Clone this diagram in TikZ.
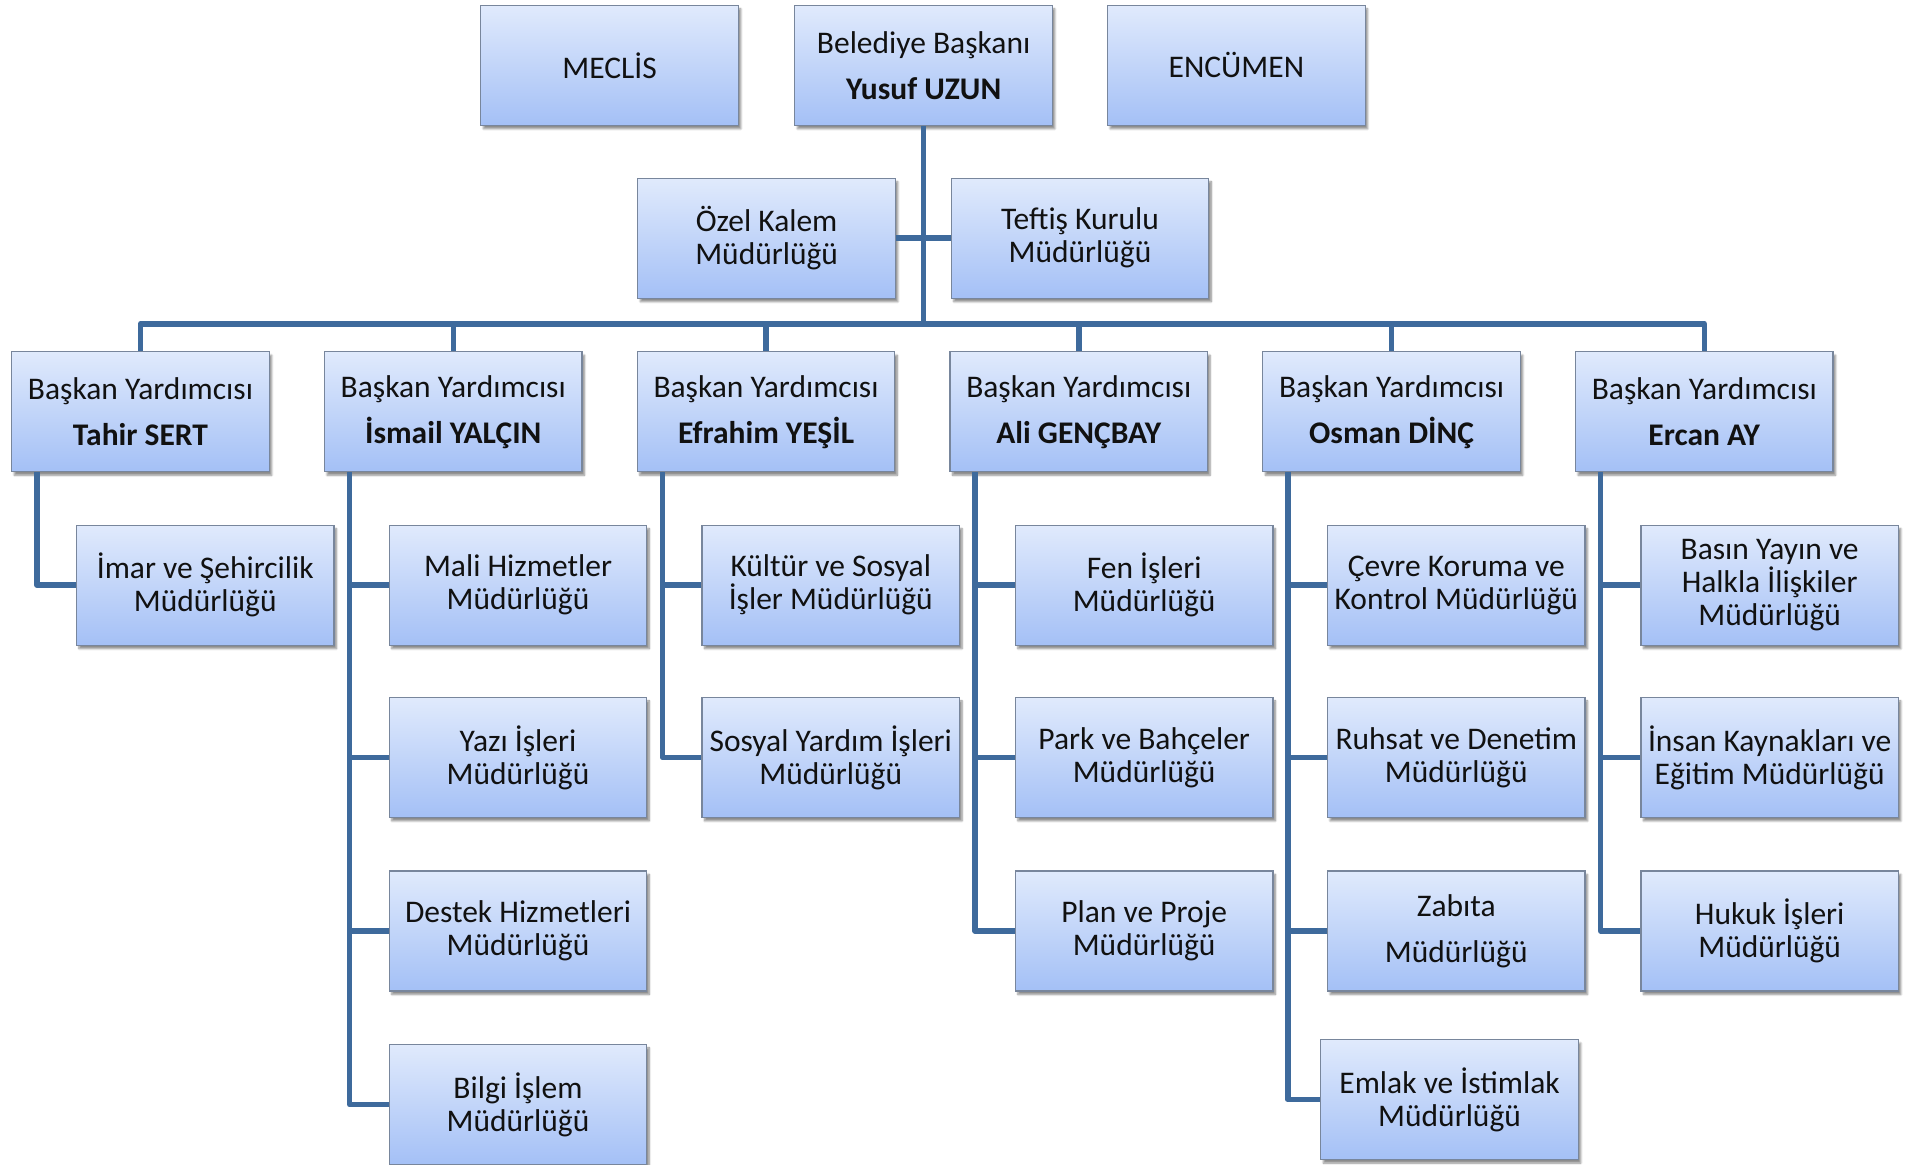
\documentclass[tikz,border=0pt]{standalone}
\usepackage{fontspec}
\setmainfont{Carlito}
\usetikzlibrary{shadows.blur}
\definecolor{boxtop}{RGB}{224,234,252}
\definecolor{boxbot}{RGB}{164,192,246}
\definecolor{boxedge}{RGB}{120,134,156}
\definecolor{linkc}{RGB}{62,106,156}
\definecolor{txt}{RGB}{17,17,17}
\tikzset{
  orgbox/.style={draw=boxedge, line width=1.2pt, top color=boxtop, bottom color=boxbot,
    minimum width=257.5pt, minimum height=120pt, inner sep=0pt, align=center,
    text=txt, font=\fontsize{31.5}{33}\selectfont,
    blur shadow={shadow xshift=2.5pt, shadow yshift=-3.5pt, shadow blur steps=6, shadow opacity=45}},
  link/.style={draw=linkc, line width=5.5pt, line join=round}
}
\begin{document}
\begin{tikzpicture}[x=1.2217pt, y=-1.2217pt]
\useasboundingbox (0,0) rectangle (1565,952.8);
% top row
\node[orgbox] (meclis) at (499,53.5) {MECLİS};
\node[orgbox] (mayor) at (756,53.5) {Belediye Başkanı\\[13pt]\textbf{Yusuf UZUN}};
\node[orgbox] (encumen) at (1012,53.5) {ENCÜMEN};
% staff
\node[orgbox] (ozel) at (627.5,195) {Özel Kalem\\Müdürlüğü};
\node[orgbox] (teftis) at (884,195) {Teftiş Kurulu\\Müdürlüğü};
% vice mayors
\node[orgbox] (vp1) at (115,337) {Başkan Yardımcısı\\[13pt]\textbf{Tahir SERT}};
\node[orgbox] (vp2) at (371,337) {Başkan Yardımcısı\\[13pt]\textbf{İsmail YALÇIN}};
\node[orgbox] (vp3) at (627,337) {Başkan Yardımcısı\\[13pt]\textbf{Efrahim YEŞİL}};
\node[orgbox] (vp4) at (883,337) {Başkan Yardımcısı\\[13pt]\textbf{Ali GENÇBAY}};
\node[orgbox] (vp5) at (1139,337) {Başkan Yardımcısı\\[13pt]\textbf{Osman DİNÇ}};
\node[orgbox] (vp6) at (1395,337) {Başkan Yardımcısı\\[13pt]\textbf{Ercan AY}};
% column 1
\node[orgbox] (imar) at (168,479) {İmar ve Şehircilik\\Müdürlüğü};
% column 2
\node[orgbox] (mali) at (424,479) {Mali Hizmetler\\Müdürlüğü};
\node[orgbox] (yazi) at (424,620) {Yazı İşleri\\Müdürlüğü};
\node[orgbox] (destek) at (424,762) {Destek Hizmetleri\\Müdürlüğü};
\node[orgbox] (bilgi) at (424,904) {Bilgi İşlem\\Müdürlüğü};
% column 3
\node[orgbox] (kultur) at (680,479) {Kültür ve Sosyal\\İşler Müdürlüğü};
\node[orgbox] (sosyal) at (680,620) {Sosyal Yardım İşleri\\Müdürlüğü};
% column 4
\node[orgbox] (fen) at (936.5,479) {Fen İşleri\\Müdürlüğü};
\node[orgbox] (park) at (936.5,620) {Park ve Bahçeler\\Müdürlüğü};
\node[orgbox] (plan) at (936.5,762) {Plan ve Proje\\Müdürlüğü};
% column 5
\node[orgbox] (cevre) at (1192,479) {Çevre Koruma ve\\Kontrol Müdürlüğü};
\node[orgbox] (ruhsat) at (1192,620) {Ruhsat ve Denetim\\Müdürlüğü};
\node[orgbox] (zabita) at (1192,762) {Zabıta\\[13pt]Müdürlüğü};
\node[orgbox] (emlak) at (1186.5,900) {Emlak ve İstimlak\\Müdürlüğü};
% column 6
\node[orgbox] (basin) at (1448.5,479) {Basın Yayın ve\\Halkla İlişkiler\\Müdürlüğü};
\node[orgbox] (insan) at (1448.5,620) {İnsan Kaynakları ve\\Eğitim Müdürlüğü};
\node[orgbox] (hukuk) at (1448.5,762) {Hukuk İşleri\\Müdürlüğü};
% bus and top connectors
\coordinate (bus) at (755,265);
\draw[link] (mayor.south) -- (mayor.south |- bus);
\draw[link] (ozel.east) -- (teftis.west);
\draw[link] (vp1.north) -- (vp1.north |- bus) -- (vp6.north |- bus) -- (vp6.north);
\foreach \v in {vp2,vp3,vp4,vp5} \draw[link] (\v.north) -- (\v.north |- bus);
% trunks
\foreach \v/\i in {vp1/1,vp2/2,vp3/3,vp4/4,vp5/5,vp6/6}
  \coordinate (t\i) at ([xshift=25.7pt]\v.south west);
\draw[link] (t1) |- (imar.west);
\draw[link] (t2) |- (bilgi.west);
\foreach \c in {mali,yazi,destek} \draw[link] (\c.west) -- (\c.west -| t2);
\draw[link] (t3) |- (sosyal.west);
\draw[link] (kultur.west) -- (kultur.west -| t3);
\draw[link] (t4) |- (plan.west);
\foreach \c in {fen,park} \draw[link] (\c.west) -- (\c.west -| t4);
\draw[link] (t5) |- (emlak.west);
\foreach \c in {cevre,ruhsat,zabita} \draw[link] (\c.west) -- (\c.west -| t5);
\draw[link] (t6) |- (hukuk.west);
\foreach \c in {basin,insan} \draw[link] (\c.west) -- (\c.west -| t6);
\end{tikzpicture}
\end{document}
